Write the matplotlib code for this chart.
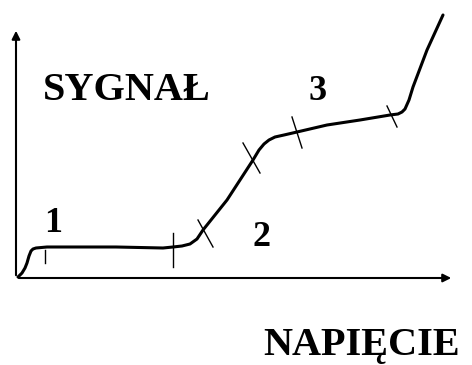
import numpy as np
import matplotlib.pyplot as plt

# curve (origin at the corner of the axes)
napiecie = [2, 6, 9, 11, 13, 15, 17, 20, 31, 60, 100, 147, 157, 166, 174, 181,
            187, 211, 237, 243, 248, 253, 259, 268, 281, 311, 344, 374, 382,
            386, 389, 393, 397, 411, 427]
sygnal = [1, 5, 10, 15, 22, 27, 29, 30, 31, 31, 31, 30, 31, 32, 34, 39,
          48, 78, 118, 128, 134, 138, 141, 143, 146, 153, 158, 163, 164,
          166, 169, 178, 191, 228, 263]

# small marks that split the curve into regions
tick_x0 = [29, 157, 182, 227, 276, 371]
tick_y0 = [28, 45, 58, 135, 161, 172]
tick_x1 = [29, 157, 197, 244, 286, 381]
tick_y1 = [15, 11, 31, 105, 130, 151]

region_labels = ['1', '2', '3']
region_x = [37, 246, 302]
region_y = [54, 40, 186]

plt.rcParams['font.family'] = ['Liberation Serif', 'DejaVu Serif']

fig = plt.figure(figsize=(4.72, 3.65), dpi=100)
ax = fig.add_axes([0, 0, 1, 1])
ax.set_xlim(-16, 456)
ax.set_ylim(-87, 278)
ax.axis('off')

# axes with arrows
arrow = dict(arrowstyle='-|>', color='black', lw=1.5, mutation_scale=12)
ax.annotate('', xy=(438, 0), xytext=(0, 0), arrowprops=arrow)
ax.annotate('', xy=(0, 250), xytext=(0, 0), arrowprops=arrow)

ax.plot(napiecie, sygnal, color='black', lw=2.2, solid_capstyle='round',
        solid_joinstyle='round')

for x0, y0, x1, y1 in zip(tick_x0, tick_y0, tick_x1, tick_y1):
    ax.plot([x0, x1], [y0, y1], color='black', lw=1.0)

for lab, x, y in zip(region_labels, region_x, region_y):
    ax.text(x, y, lab, fontsize=26, fontweight='bold', ha='center', va='center')

ax.text(27, 188, 'SYGNAŁ', fontsize=29, fontweight='bold', ha='left', va='center')
ax.text(247, -67, 'NAPIĘCIE', fontsize=29, fontweight='bold', ha='left', va='center')

fig.savefig('out.png', dpi=100)
